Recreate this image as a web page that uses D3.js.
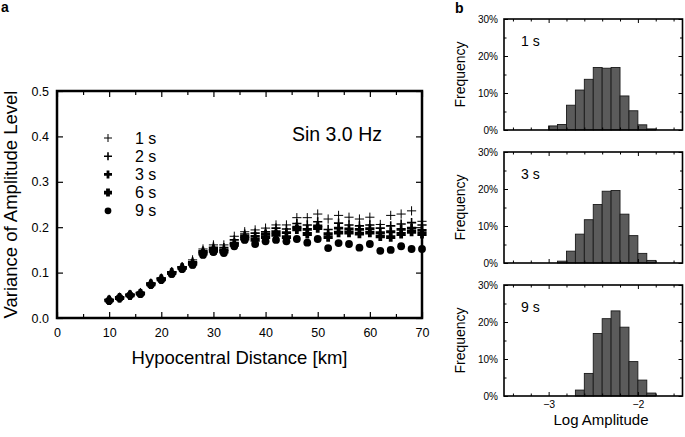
<!DOCTYPE html>
<html>
  <head>
    <meta charset="utf-8">
    <title>Variance of Amplitude Level</title>
    <script src="https://cdn.jsdelivr.net/npm/d3@7/dist/d3.min.js"></script>
    <style>
      body { margin: 0; background: #fff; }
      svg { font-family: "Liberation Sans", Arial, Helvetica, sans-serif; }
      .axis .domain { display: none; }
      .axis line { stroke: #000; stroke-width: 1.2; }
      .axis text { fill: #000; }
    </style>
  </head>
  <body>
    <svg width="685" height="437" id="mainsvg"></svg>
    <script>
      // ---- data: panel a ----
      const distance = [10,12,14,16,18,20,22,24,26,28,30,32,34,36,38,40,42,44,46,48,50,52,54,56,58,60,62,64,66,68,70];
      const var1s = [0.041,0.046,0.052,0.056,0.077,0.088,0.102,0.113,0.128,0.152,0.161,0.161,0.180,0.190,0.194,0.198,0.205,0.205,0.221,0.221,0.229,0.218,0.226,0.222,0.218,0.222,0.206,0.226,0.229,0.236,0.213];
      const var2s = [0.040,0.045,0.051,0.055,0.076,0.087,0.101,0.112,0.124,0.148,0.156,0.155,0.172,0.185,0.187,0.190,0.198,0.196,0.208,0.205,0.212,0.195,0.209,0.205,0.203,0.205,0.198,0.203,0.207,0.210,0.205];
      const var3s = [0.039,0.045,0.051,0.054,0.075,0.086,0.100,0.111,0.121,0.145,0.152,0.150,0.165,0.180,0.180,0.185,0.190,0.188,0.200,0.195,0.203,0.186,0.198,0.196,0.195,0.197,0.188,0.190,0.195,0.198,0.193];
      const var6s = [0.039,0.044,0.050,0.054,0.074,0.085,0.099,0.110,0.119,0.142,0.148,0.146,0.161,0.175,0.172,0.178,0.183,0.178,0.195,0.185,0.198,0.178,0.188,0.188,0.186,0.188,0.180,0.178,0.185,0.190,0.185];
      const var9s = [0.038,0.044,0.050,0.053,0.073,0.084,0.097,0.108,0.117,0.139,0.145,0.143,0.158,0.172,0.163,0.169,0.172,0.169,0.174,0.166,0.174,0.154,0.165,0.163,0.155,0.163,0.148,0.150,0.158,0.152,0.152];
      const seriesNames = ['1 s', '2 s', '3 s', '6 s', '9 s'];
      const seriesValues = [var1s, var2s, var3s, var6s, var9s];
      const xTicksA = [0, 10, 20, 30, 40, 50, 60, 70];
      const yTicksA = [0, 0.1, 0.2, 0.3, 0.4, 0.5];

      // ---- data: panel b (histograms, % per 0.1 bin of log amplitude) ----
      const binLeft = [-3.0,-2.9,-2.8,-2.7,-2.6,-2.5,-2.4,-2.3,-2.2,-2.1,-2.0,-1.9];
      const hist1s = [1.1,1.5,6.7,10.8,13.7,16.9,16.7,16.9,9.2,5.2,1.4,0.3];
      const hist3s = [0,0.5,3.2,7.8,11.7,15.8,19.4,19.6,13.2,7.4,2.6,0.7];
      const hist9s = [0,0,0,1.6,6.1,16.9,20.9,23.0,18.6,9.3,4.3,0.8];
      const histNames = ['1 s', '3 s', '9 s'];
      const histValues = [hist1s, hist3s, hist9s];
      const yTicksB = [0, 10, 20, 30];
      const xTicksB = [-3, -2];

      const svg = d3.select('#mainsvg');

      // ================= panel a =================
      const A = {left: 57, right: 422, top: 91, bottom: 318};
      const xScale = d3.scaleLinear().domain([0, 70]).range([A.left, A.right]);
      const yScale = d3.scaleLinear().domain([0, 0.5]).range([A.bottom, A.top]);
      const minorX = d3.range(5, 70, 10);

      const ga = svg.append('g').attr('id', 'panel-a');

      // ticks (inward)
      ga.append('g').attr('class', 'axis').attr('transform', `translate(0,${A.bottom})`)
        .call(d3.axisBottom(xScale).tickValues(xTicksA).tickSize(-6).tickPadding(10).tickFormat(d3.format('d')))
        .style('font-size', '12.5px');
      ga.append('g').attr('class', 'axis').attr('transform', `translate(0,${A.bottom})`)
        .call(d3.axisBottom(xScale).tickValues(minorX).tickSize(-4).tickFormat(''));
      ga.append('g').attr('class', 'axis').attr('transform', `translate(0,${A.top})`)
        .call(d3.axisTop(xScale).tickValues(xTicksA).tickSize(-6).tickFormat(''));
      ga.append('g').attr('class', 'axis').attr('transform', `translate(0,${A.top})`)
        .call(d3.axisTop(xScale).tickValues(minorX).tickSize(-4).tickFormat(''));
      ga.append('g').attr('class', 'axis').attr('transform', `translate(${A.left},0)`)
        .call(d3.axisLeft(yScale).tickValues(yTicksA).tickSize(-6).tickPadding(8).tickFormat(d3.format('.1f')))
        .style('font-size', '12.5px');
      ga.append('g').attr('class', 'axis').attr('transform', `translate(${A.right},0)`)
        .call(d3.axisRight(yScale).tickValues(yTicksA).tickSize(-6).tickFormat(''));

      ga.append('rect')
        .attr('x', A.left).attr('y', A.top)
        .attr('width', A.right - A.left).attr('height', A.bottom - A.top)
        .attr('fill', 'none').attr('stroke', '#000').attr('stroke-width', 2.5);

      // marker styles, lighter to heavier
      const markerStroke = [1, 1.6, 2.8, 3.8, 0];
      const drawMarker = function(sel, i, s) {
        if (i === 4) {
          sel.append('circle').attr('r', s * 0.85).attr('fill', '#000');
        } else {
          sel.append('path')
            .attr('d', `M${-s},0H${s}M0,${-s}V${s}`)
            .attr('stroke', '#000')
            .attr('stroke-width', markerStroke[i])
            .attr('fill', 'none');
        }
      };

      seriesValues.forEach(function(vals, i) {
        const gs = ga.append('g').attr('class', `series-${i}`);
        gs.selectAll('g')
          .data(distance.map((d, j) => ({d: d, v: vals[j]})))
          .join('g')
          .attr('transform', p => `translate(${xScale(p.d)},${yScale(p.v)})`)
          .each(function() { drawMarker(d3.select(this), i, 4.6); });
      });

      // legend
      const legend = ga.append('g').attr('class', 'legend');
      seriesNames.forEach(function(name, i) {
        const row = legend.append('g').attr('transform', `translate(108,${138 + i * 18.2})`);
        drawMarker(row, i, 4);
        row.append('text').attr('x', 27).attr('y', 5.5)
          .style('font-size', '16px').text(name);
      });

      ga.append('text').attr('x', 292).attr('y', 141)
        .style('font-size', '19.5px').text('Sin 3.0 Hz');

      ga.append('text')
        .attr('x', (A.left + A.right) / 2).attr('y', 364)
        .attr('text-anchor', 'middle')
        .style('font-size', '18.5px')
        .text('Hypocentral Distance [km]');
      ga.append('text')
        .attr('transform', `translate(17,${(A.top + A.bottom) / 2}) rotate(-90)`)
        .attr('text-anchor', 'middle')
        .style('font-size', '18.5px')
        .text('Variance of Amplitude Level');

      svg.append('text').attr('x', 1).attr('y', 12)
        .style('font-size', '14px').style('font-weight', 'bold').text('a');

      // ================= panel b =================
      const B = {left: 504, right: 682.5};
      const panelTops = [19, 152, 285];
      const panelH = 111;
      const xScaleB = d3.scaleLinear().domain([-3.5, -1.5]).range([B.left, B.right]);
      const minorXB = [-3.4, -3.2, -2.8, -2.6, -2.4, -2.2, -1.8, -1.6];
      const minorYB = [5, 15, 25];

      histValues.forEach(function(vals, k) {
        const top = panelTops[k];
        const bottom = top + panelH;
        const yB = d3.scaleLinear().domain([0, 30]).range([bottom, top]);
        const gb = svg.append('g').attr('class', `hist-${k}`);

        gb.selectAll('rect.bar')
          .data(binLeft.map((b, j) => ({b: b, v: vals[j]})).filter(p => p.v > 0))
          .join('rect')
          .attr('class', 'bar')
          .attr('x', p => xScaleB(p.b))
          .attr('y', p => yB(p.v))
          .attr('width', p => xScaleB(p.b + 0.1) - xScaleB(p.b))
          .attr('height', p => bottom - yB(p.v))
          .attr('fill', '#5b5b5b')
          .attr('stroke', '#1a1a1a')
          .attr('stroke-width', 0.9);

        gb.append('g').attr('class', 'axis').attr('transform', `translate(0,${bottom})`)
          .call(d3.axisBottom(xScaleB).tickValues(xTicksB).tickSize(-4).tickPadding(5)
            .tickFormat(k === 2 ? d3.format('d') : ''))
          .style('font-size', '10.5px');
        gb.append('g').attr('class', 'axis').attr('transform', `translate(0,${bottom})`)
          .call(d3.axisBottom(xScaleB).tickValues(minorXB).tickSize(-2.5).tickFormat(''));
        gb.append('g').attr('class', 'axis').attr('transform', `translate(0,${top})`)
          .call(d3.axisTop(xScaleB).tickValues(xTicksB).tickSize(-4).tickFormat(''));
        gb.append('g').attr('class', 'axis').attr('transform', `translate(0,${top})`)
          .call(d3.axisTop(xScaleB).tickValues(minorXB).tickSize(-2.5).tickFormat(''));
        gb.append('g').attr('class', 'axis').attr('transform', `translate(${B.left},0)`)
          .call(d3.axisLeft(yB).tickValues(yTicksB).tickSize(-4).tickPadding(6).tickFormat(d => d + '%'))
          .style('font-size', '10px');
        gb.append('g').attr('class', 'axis').attr('transform', `translate(${B.left},0)`)
          .call(d3.axisLeft(yB).tickValues(minorYB).tickSize(-2.5).tickFormat(''));
        gb.append('g').attr('class', 'axis').attr('transform', `translate(${B.right},0)`)
          .call(d3.axisRight(yB).tickValues(yTicksB).tickSize(-4).tickFormat(''));
        gb.append('g').attr('class', 'axis').attr('transform', `translate(${B.right},0)`)
          .call(d3.axisRight(yB).tickValues(minorYB).tickSize(-2.5).tickFormat(''));

        gb.selectAll('.axis line').style('stroke-width', 1);

        gb.append('rect')
          .attr('x', B.left).attr('y', top)
          .attr('width', B.right - B.left).attr('height', panelH)
          .attr('fill', 'none').attr('stroke', '#000').attr('stroke-width', 1.6);

        gb.append('text').attr('x', 521).attr('y', top + 27)
          .style('font-size', '14px').text(histNames[k]);

        gb.append('text')
          .attr('transform', `translate(465,${top + panelH / 2}) rotate(-90)`)
          .attr('text-anchor', 'middle')
          .style('font-size', '14px')
          .text('Frequency');
      });

      svg.append('text')
        .attr('x', 601).attr('y', 425)
        .attr('text-anchor', 'middle')
        .style('font-size', '15px')
        .text('Log Amplitude');

      svg.append('text').attr('x', 455).attr('y', 13)
        .style('font-size', '14px').style('font-weight', 'bold').text('b');
    </script>
  </body>
</html>
